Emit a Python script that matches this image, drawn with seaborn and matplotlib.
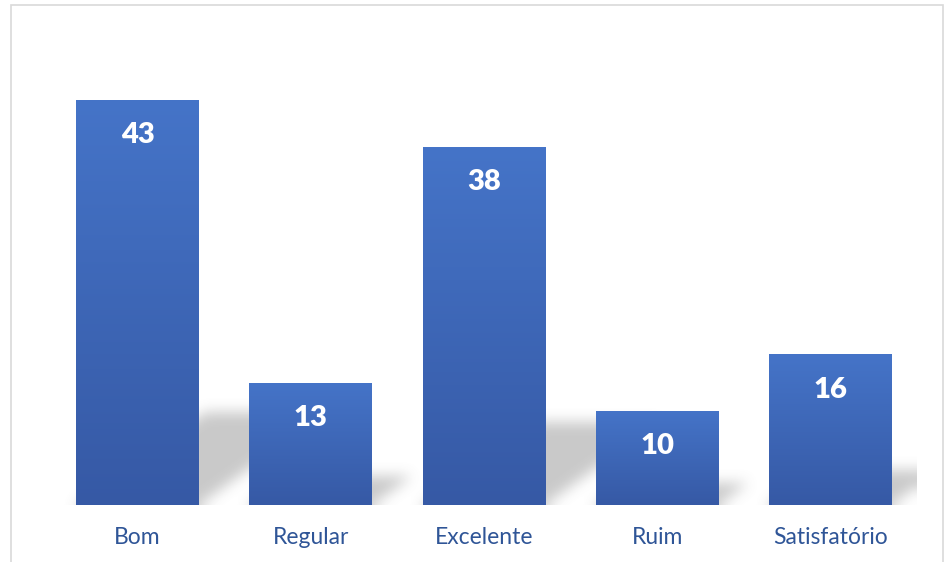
import numpy as np
import pandas as pd
import matplotlib
matplotlib.use("Agg")
import matplotlib.pyplot as plt
import seaborn as sns
from matplotlib.colors import LinearSegmentedColormap
from matplotlib.patches import Rectangle

# Dados do gráfico
categorias = ["Bom", "Regular", "Excelente", "Ruim", "Satisfatório"]
valores = [43, 13, 38, 10, 16]

df = pd.DataFrame({"categoria": categorias, "valor": valores})

LARGURA = 0.71
YMAX = 50

sns.set_theme(style="white")
plt.rcParams["font.family"] = ["Lato", "DejaVu Sans"]

fig = plt.figure(figsize=(9.5, 5.62), dpi=100)
ax = fig.add_axes([51 / 950, 57 / 562, 866 / 950, 471 / 562])

sns.barplot(data=df, x="categoria", y="valor", color="#4472C4",
            width=LARGURA, ax=ax, zorder=3)
ax.set_xlim(-0.5, len(categorias) - 0.5)
ax.set_ylim(0, YMAX)


def box_blur(a, r, n=3):
    # desfoque simples (caixa) repetido, separável
    for _ in range(n):
        for axis in (0, 1):
            pad = [(0, 0), (0, 0)]
            pad[axis] = (r + 1, r)
            p = np.pad(a, pad, mode="edge")
            c = np.cumsum(p, axis=axis)
            if axis == 0:
                a = (c[2 * r + 1:, :] - c[:-2 * r - 1, :]) / (2 * r + 1)
            else:
                a = (c[:, 2 * r + 1:] - c[:, :-2 * r - 1]) / (2 * r + 1)
    return a


# Sombra em perspectiva atrás das barras
nx, ny = 866, 471
xs = np.linspace(-0.5, len(categorias) - 0.5, nx)
ys = np.linspace(0, YMAX, ny)
X, Y = np.meshgrid(xs, ys)
mask = np.zeros_like(X)
px_x = nx / len(categorias)
px_y = ny / YMAX
for i, v in enumerate(valores):
    dy = 0.23 * v
    dx = 0.32 * v * px_y / px_x
    shift = dx * Y / dy
    dentro = (Y <= dy) & (X >= i - LARGURA / 2 + shift) & (X <= i + LARGURA / 2 + shift)
    mask[dentro] = 1.0
mask = box_blur(mask, 6)
sombra = np.zeros((ny, nx, 4))
sombra[..., :3] = 0.45
sombra[..., 3] = mask * 0.38
ax.imshow(sombra, extent=[xs[0], xs[-1], 0, YMAX], origin="lower",
          aspect="auto", zorder=1, interpolation="bilinear")

# Gradiente nas barras
cmap = LinearSegmentedColormap.from_list("azul", ["#3659A5", "#4574C8"])
grad = np.linspace(0, 1, 256).reshape(-1, 1)
for patch in ax.patches:
    x0, y0, w, h = patch.get_x(), patch.get_y(), patch.get_width(), patch.get_height()
    im = ax.imshow(grad, extent=[x0, x0 + w, y0, y0 + h], origin="lower",
                   cmap=cmap, aspect="auto", zorder=4)
    im.set_clip_path(patch)
    patch.set_edgecolor("none")

ax.set_xlim(-0.5, len(categorias) - 0.5)
ax.set_ylim(0, YMAX)

# Rótulos de valor
for i, v in enumerate(valores):
    ax.annotate(str(v), xy=(i, v), xytext=(0, -25.5), textcoords="offset points",
                ha="center", va="center", color="white", fontsize=21,
                fontweight="heavy", zorder=5)

ax.set_xlabel("")
ax.set_ylabel("")
ax.set_yticks([])
ax.tick_params(axis="x", length=0, pad=16, labelsize=16.5, labelcolor="#2F5597")
sns.despine(ax=ax, left=True, bottom=True)

# Moldura do gráfico
fig.add_artist(Rectangle((11 / 950, -0.1), (943 - 11) / 950, 1.1 - 5 / 562,
                         transform=fig.transFigure, fill=False,
                         edgecolor="#d9d9d9", linewidth=1.2))

fig.savefig("out.png", dpi=100)
